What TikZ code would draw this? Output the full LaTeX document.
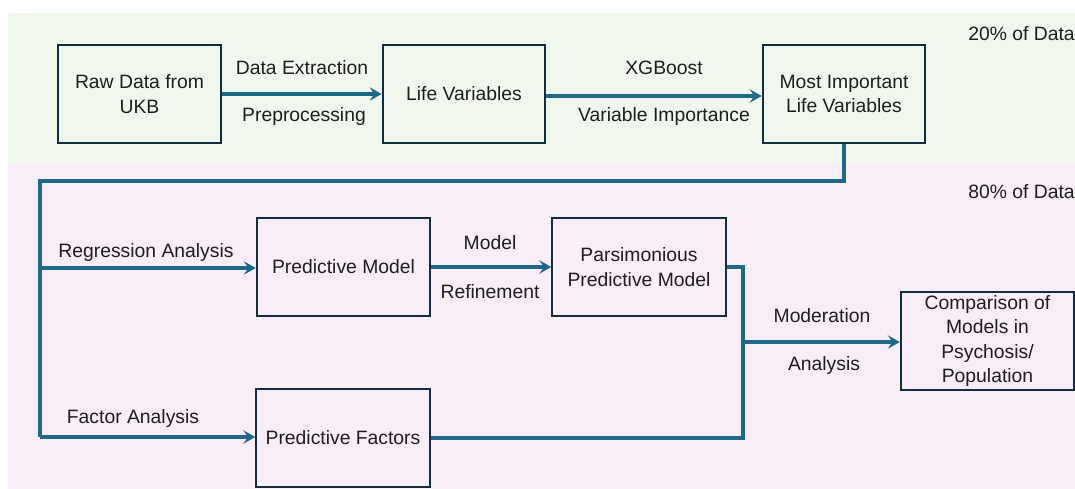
\documentclass[tikz,border=0pt]{standalone}
\usepackage{fontspec}
\setmainfont{Liberation Sans}
\usetikzlibrary{arrows.meta,positioning,calc}

\definecolor{bandgreen}{RGB}{240,248,238}
\definecolor{bandpink}{RGB}{249,237,247}
\definecolor{boxline}{RGB}{18,45,64}
\definecolor{flow}{RGB}{30,104,138}
\definecolor{txt}{RGB}{30,30,30}

\tikzset{
  stage/.style={draw=boxline, line width=1.5pt, minimum width=122pt, minimum height=73.5pt,
    align=center, text=txt, font=\fontsize{14.5}{18.6}\selectfont, inner sep=2pt},
  widestage/.style={stage, minimum width=130pt},
  lbl/.style={text=txt, font=\fontsize{14.5}{18}\selectfont, inner sep=0pt},
  flowline/.style={draw=flow, line width=2.3pt},
  flowarrow/.style={flowline, -{Stealth[length=9pt,width=10pt,inset=3.5pt]}}
}

\begin{document}
\begin{tikzpicture}[x=0.75pt,y=-0.75pt]
				\useasboundingbox (0,0) rectangle (1075,489);

				% Bands for the two data splits
				\fill[bandgreen] (8,13) rectangle (1075,163);
				\fill[bandpink] (8,163) rectangle (1075,489);
				\node[lbl, anchor=west] (splittop) at (968,34) {20\% of Data};
				\node[lbl, anchor=west] (splitbot) at (968,192) {80\% of Data};

				% Top row
				\node[stage] (raw) at (139.5,94) {Raw Data from\\UKB};
				\node[stage] (life) at (464,94) {Life Variables};
				\node[stage] (imp) at (844,94) {Most Important\\Life Variables};

				\draw[flowarrow] (raw.east) -- (life.west);
				\node[lbl] (extr) at (302,68) {Data Extraction};
				\node[lbl] (prep) at (304,117) {Preprocessing};

				\draw[flowarrow] (life.east |- 0,96) -- (imp.west |- 0,96);
				\node[lbl] (xgb) at (664,68) {XGBoost};
				\node[lbl] (vimp) at (664,117) {Variable Importance};

				% Lower rows
				\node[widestage] (pm) at (343.5,267) {Predictive Model};
				\node[widestage] (pars) at (639,267) {Parsimonious\\Predictive Model};
				\node[widestage] (pf) at (343,438) {Predictive Factors};
				\node[widestage, font=\fontsize{14.5}{18.4}\selectfont] (cmp) at (987.5,341)
					{Comparison of\\Models in\\Psychosis/\\Population};

				% Feed from the top row down the left side
				\coordinate (turn) at (40,181);
				\coordinate (fork) at (40,268);
				\coordinate (low) at (40,437);
				\draw[flowline, line join=miter] (imp.south) |- (turn) -- (low);
				\draw[flowarrow] (fork) -- (pm.west |- fork);
				\draw[flowarrow] (low) -- (pf.west |- low);
				\node[lbl] (regr) at (146,252) {Regression Analysis};
				\node[lbl] (fact) at (133,418) {Factor Analysis};

				\draw[flowarrow] (pm.east) -- (pars.west);
				\node[lbl] (modl) at (490,243) {Model};
				\node[lbl] (refn) at (490,292) {Refinement};

				% Moderation join
				\coordinate (mod) at (743,342);
				\draw[flowline] (pars.east) -| (mod);
				\draw[flowline] (pf.east) -| (mod);
				\draw[flowarrow] (mod) -- (cmp.west |- mod);
				\node[lbl] (moder) at (822,316) {Moderation};
				\node[lbl] (anal) at (824,365) {Analysis};
\end{tikzpicture}
\end{document}
